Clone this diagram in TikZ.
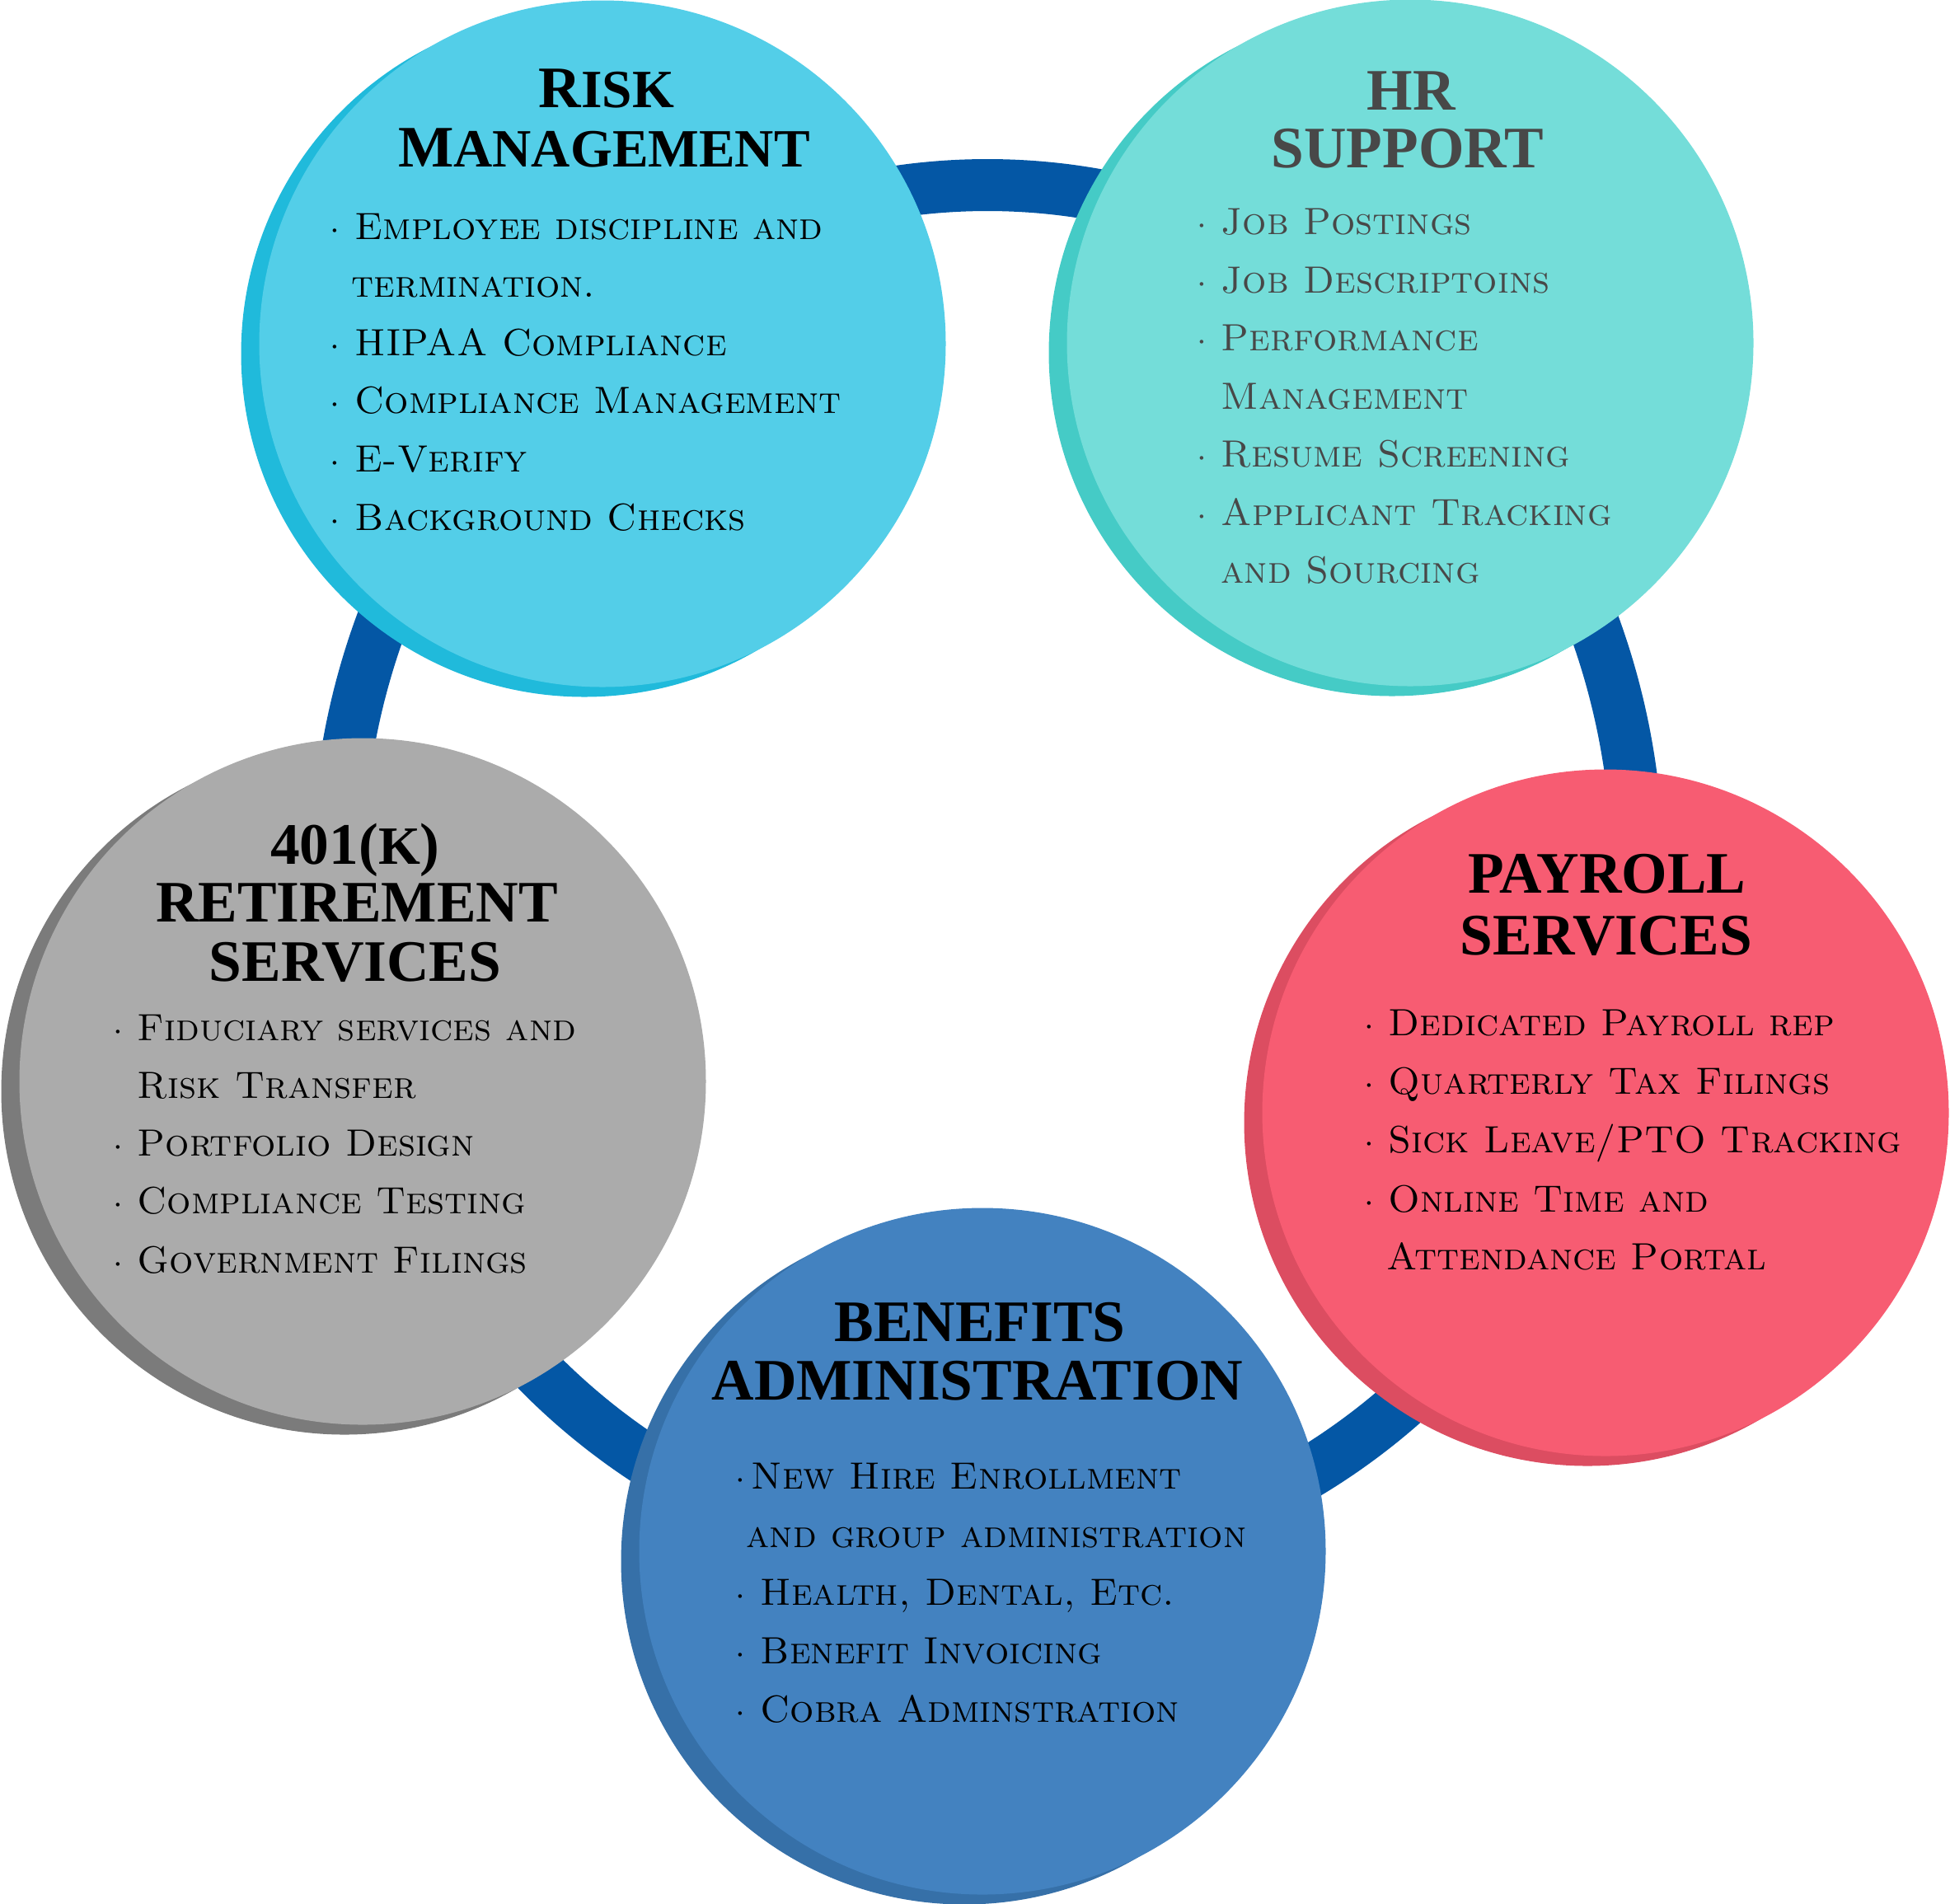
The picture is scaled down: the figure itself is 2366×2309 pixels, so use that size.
\documentclass[tikz,border=0pt]{standalone}
\usepackage{fontspec}
\newfontfamily\ttlfont{Liberation Serif}
\usetikzlibrary{calc}
\definecolor{ringblue}{RGB}{4,87,165}
\definecolor{riskmain}{RGB}{83,206,232}
\definecolor{riskshd}{RGB}{32,186,219}
\definecolor{hrmain}{RGB}{116,221,217}
\definecolor{hrshd}{RGB}{69,203,198}
\definecolor{paymain}{RGB}{247,92,114}
\definecolor{payshd}{RGB}{220,77,97}
\definecolor{benmain}{RGB}{67,130,192}
\definecolor{benshd}{RGB}{54,112,168}
\definecolor{kmain}{RGB}{171,171,171}
\definecolor{kshd}{RGB}{123,123,123}
\definecolor{hrtext}{RGB}{72,72,72}
\newcommand\itemdot[1][3mm]{\makebox[#1][l]{$\cdot$}}
\newcommand\smc[1]{{\fontsize{18.6}{20}\selectfont #1}}
\tikzset{blob/.style={circle,inner sep=0pt,minimum size=83.3mm},
         ringline/.style={line width=6.3mm,ringblue},
         ttl/.style={anchor=base,inner sep=0pt,font=\ttlfont\bfseries\fontsize{20.3}{24}\selectfont},
         itm/.style={anchor=base west,inner sep=0pt,font=\fontsize{13.1}{16}\selectfont\scshape}
         }

\begin{document}
\begin{tikzpicture}[x=0.1mm,y=-0.1mm]
        \useasboundingbox (0,0) rectangle (2366,2309);
        \coordinate (ringc) at (1198,1060);
        \draw[ringline] (ringc) ellipse[x radius=78.9mm,y radius=83.55mm];

        \begin{scope}
        \node[blob,fill=riskshd] (riskd) at (709,429) {};
        \node[blob,fill=riskmain] (risk) at (731,417) {};
        \node[ttl] (riskt1) at (736,130) {R\smc{ISK}};
        \node[ttl] (riskt2) at (733,202) {M\smc{ANAGEMENT}};
        \node[itm] (rk1) at (400,290) {\itemdot Employee discipline and};
        \node[itm] (rk2) at (426,360) {termination.};
        \node[itm] (rk3) at (400,431) {\itemdot HIPAA Compliance};
        \node[itm] (rk4) at (400,501) {\itemdot Compliance Management};
        \node[itm] (rk5) at (400,572) {\itemdot E-Verify};
        \node[itm] (rk6) at (400,643) {\itemdot Background Checks};
        \end{scope}

        \begin{scope}[every node/.append style={text=hrtext}]
        \node[blob,fill=hrshd] (hrd) at (1689,428) {};
        \node[blob,fill=hrmain] (hr) at (1711,416) {};
        \node[ttl] (hrt1) at (1712,133) {HR};
        \node[ttl] (hrt2) at (1708,203) {SUPPORT};
        \node[itm] (hs1) at (1452,284) {\itemdot[2.9mm]Job Postings};
        \node[itm] (hs2) at (1452,355) {\itemdot[2.9mm]Job Descriptoins};
        \node[itm] (hs3) at (1452,425) {\itemdot[2.9mm]Performance};
        \node[itm] (hs4) at (1481,496) {Management};
        \node[itm] (hs5) at (1452,566) {\itemdot[2.9mm]Resume Screening};
        \node[itm] (hs6) at (1452,637) {\itemdot[2.9mm]Applicant Tracking};
        \node[itm] (hs7) at (1481,707) {and Sourcing};
        \end{scope}

        \begin{scope}
        \node[blob,fill=payshd] (payd) at (1926,1362) {};
        \node[blob,fill=paymain] (pay) at (1948,1350) {};
        \node[ttl] (payt1) at (1950,1083) {PAYROLL};
        \node[ttl] (payt2) at (1949,1158) {SERVICES};
        \node[itm] (ps1) at (1655,1256) {\itemdot[2.9mm]Dedicated Payroll rep};
        \node[itm] (ps2) at (1655,1327) {\itemdot[2.9mm]Quarterly Tax Filings};
        \node[itm] (ps3) at (1655,1398) {\itemdot[2.9mm]Sick Leave/PTO Tracking};
        \node[itm] (ps4) at (1655,1470) {\itemdot[2.9mm]Online Time and};
        \node[itm] (ps5) at (1682,1540) {Attendance Portal};
        \end{scope}

        \begin{scope}
        \node[blob,fill=benshd] (bend) at (1170,1894) {};
        \node[blob,fill=benmain] (ben) at (1192,1882) {};
        \node[ttl] (bent1) at (1189,1627) {BENEFITS};
        \node[ttl] (bent2) at (1186,1698) {ADMINISTRATION};
        \node[itm] (ba1) at (892,1806) {\itemdot[1.9mm]New Hire Enrollment};
        \node[itm] (ba2) at (905,1877) {and group administration};
        \node[itm] (ba3) at (892,1947) {\itemdot Health, Dental, Etc.};
        \node[itm] (ba4) at (892,2018) {\itemdot Benefit Invoicing};
        \node[itm] (ba5) at (892,2089) {\itemdot Cobra Adminstration};
        \end{scope}

        \begin{scope}
        \node[blob,fill=kshd] (kd) at (418,1324) {};
        \node[blob,fill=kmain] (k) at (440,1312) {};
        \node[ttl] (kt1) at (431,1048) {401(\smc{K})};
        \node[ttl] (kt2) at (433,1118) {RETIREMENT};
        \node[ttl] (kt3) at (431,1190) {SERVICES};
        \node[itm] (ks1) at (137,1262) {\itemdot[2.9mm]Fiduciary services and};
        \node[itm] (ks2) at (166,1332) {Risk Transfer};
        \node[itm] (ks3) at (137,1402) {\itemdot[2.9mm]Portfolio Design};
        \node[itm] (ks4) at (137,1472) {\itemdot[2.9mm]Compliance Testing};
        \node[itm] (ks5) at (137,1544) {\itemdot[2.9mm]Government Filings};
        \end{scope}
        \end{tikzpicture}
\end{document}
